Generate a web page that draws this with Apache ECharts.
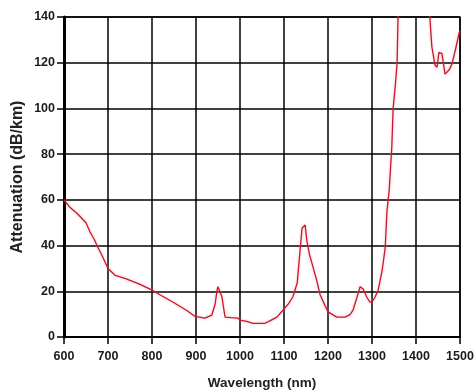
<!DOCTYPE html>
<html><head><meta charset="utf-8">
<script src="https://cdn.jsdelivr.net/npm/echarts@6/dist/echarts.min.js"></script>
<style>html,body{margin:0;padding:0;background:#fff}#c{width:476px;height:392px}</style>
</head><body><div id="c"></div>
<script>
const wavelength = [600,612,630,650,659,668,675,688,700,716,740,773,800,818,850,880,898,920,936,943,948,950,954,959,966,980,995,1000,1015,1030,1057,1070,1084,1098,1110,1120,1130,1136,1141,1148,1152,1158,1166,1174,1182,1200,1220,1239,1250,1257,1266,1273,1280,1288,1295,1300,1307,1314,1323,1330,1334,1339,1345,1348,1353,1357,1359,1365,1425,1432,1436,1443,1448,1452,1459,1466,1470,1476,1482,1490,1498,1500];
const attenuation = [60,57,54,50,46,43,40,35,30,27,25.5,23,20.5,18.5,15,11.5,9,8.3,9.6,14,20.5,22,20,17.5,8.7,8.5,8.3,7.4,6.8,6,6,7.3,8.7,11.8,14.5,17.5,23.6,36.7,47.6,49,42,36,30.6,25,18.5,11,8.7,8.7,9.8,11.8,17.5,22,21,17.5,15.3,15.3,17.5,20.5,29,39,55,64,83,100,110,120,138.5,160,160,138.5,127,119,118,124.5,124,115,114.5,117,119.6,126,133,134];
const xTicks = [600,700,800,900,1000,1100,1200,1300,1400,1500];
const yTicks = [0,20,40,60,80,100,120,140];

const chart = echarts.init(document.getElementById('c'), null, {renderer:'canvas'});
const font = {fontFamily:'Liberation Sans', fontWeight:'bold', fontSize:12.5, color:'#1a1a1a'};
chart.setOption({
  animation:false,
  backgroundColor:'#fff',
  grid:{left:64, right:16, top:17, bottom:55, containLabel:false, outerBoundsMode:'none',
    show:true, borderColor:'#111', borderWidth:1.5, backgroundColor:'transparent'},
  xAxis:{type:'value', min:xTicks[0], max:xTicks[xTicks.length-1], interval:100,
    name:'Wavelength (nm)', nameLocation:'middle', nameGap:39, nameMoveOverlap:false,
    nameTextStyle:{fontFamily:'Liberation Sans', fontWeight:'bold', fontSize:13.5, color:'#222'},
    axisLine:{show:true, lineStyle:{color:'#000', width:2}},
    axisTick:{show:true, length:7, lineStyle:{color:'#000', width:1.5}},
    axisLabel:Object.assign({margin:13, formatter:v=>String(v)},font),
    splitLine:{show:true, lineStyle:{color:'#000', width:1.5}}},
  yAxis:{type:'value', min:yTicks[0], max:yTicks[yTicks.length-1], interval:20,
    name:'Attenuation (dB/km)', nameLocation:'middle', nameGap:38, nameRotate:90, nameMoveOverlap:false,
    nameTextStyle:{fontFamily:'Liberation Sans', fontWeight:'bold', fontSize:16, color:'#222'},
    axisLine:{show:true, lineStyle:{color:'#000', width:3}},
    axisTick:{show:true, length:7, lineStyle:{color:'#000', width:1.5}},
    axisLabel:Object.assign({margin:9, formatter:v=>String(v)},font),
    splitLine:{show:true, lineStyle:{color:'#000', width:1.5}}},
  series:[{type:'line', data:wavelength.map((w,i)=>[w,attenuation[i]]),
    showSymbol:false, clip:true, smooth:false,
    lineStyle:{color:'#c8182a', width:1.3, shadowColor:'rgba(235,130,140,0.6)', shadowBlur:3}}]
});
</script></body></html>
